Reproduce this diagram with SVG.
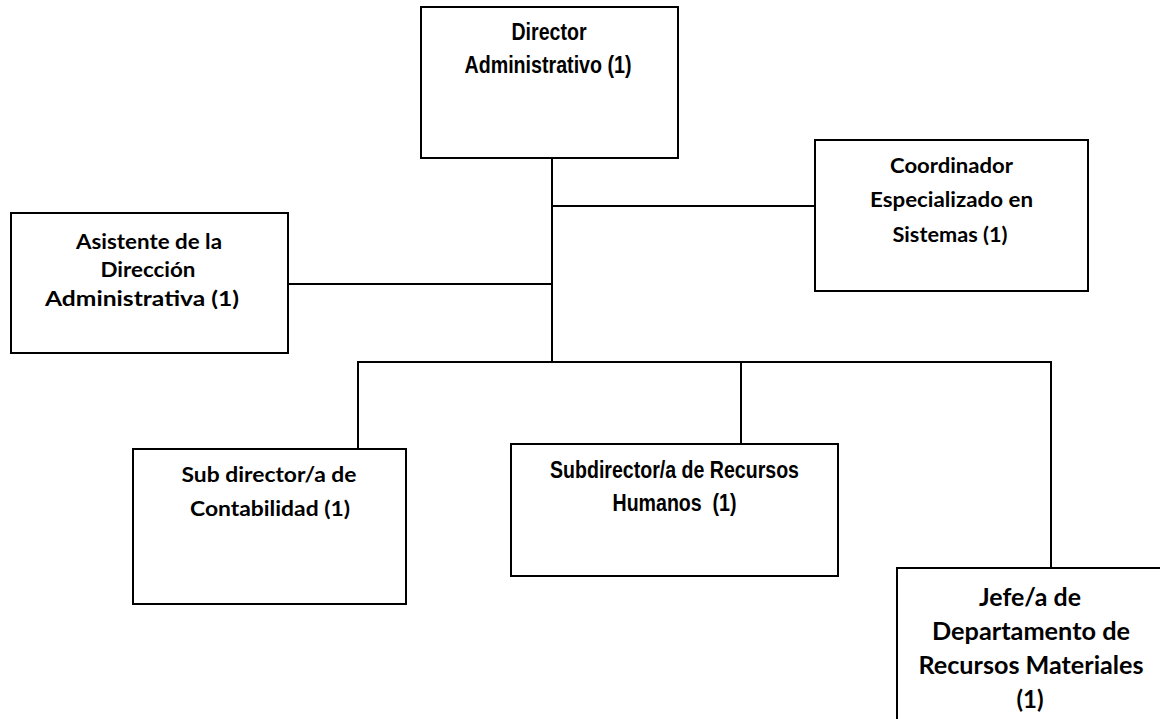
<svg xmlns="http://www.w3.org/2000/svg" width="1160" height="719" viewBox="0 0 1160 719">
  <style>
    .box { fill: #ffffff; stroke: #000000; stroke-width: 2; }
    .link { fill: none; stroke: #000000; stroke-width: 2; }
    .narrow { font-family: "Liberation Sans", Arial, sans-serif; font-weight: bold; font-size: 23px; fill: #000000; text-anchor: middle; }
    .cal { font-family: Lato, "Open Sans", sans-serif; font-weight: bold; font-size: 21.5px; fill: #000000; text-anchor: middle; }
    .cal-lg { font-size: 24px; }
  </style>
  <rect width="1160" height="719" fill="#ffffff"/>

  <!-- reporting lines -->
  <g id="connectors">
    <path class="link" d="M552 158 V362"/>
    <path class="link" d="M552 206 H815"/>
    <path class="link" d="M288 284 H552"/>
    <path class="link" d="M358 449 V362 H1051 V568"/>
    <path class="link" d="M741 362 V444"/>
  </g>

  <g id="director">
    <rect class="box" x="421" y="7" width="257" height="151"/>
    <text class="narrow" x="549" y="40" textLength="75" lengthAdjust="spacingAndGlyphs">Director</text>
    <text class="narrow" x="548" y="73" textLength="167" lengthAdjust="spacingAndGlyphs">Administrativo (1)</text>
  </g>

  <g id="coordinador">
    <rect class="box" x="815" y="140" width="273" height="151"/>
    <text class="cal" x="951.5" y="173" textLength="123" lengthAdjust="spacingAndGlyphs">Coordinador</text>
    <text class="cal" x="951.5" y="207" textLength="163" lengthAdjust="spacingAndGlyphs">Especializado en</text>
    <text class="cal" x="950" y="242" textLength="115" lengthAdjust="spacingAndGlyphs">Sistemas (1)</text>
  </g>

  <g id="asistente">
    <rect class="box" x="11" y="213" width="277" height="140"/>
    <text class="cal" x="149" y="249" textLength="146" lengthAdjust="spacingAndGlyphs">Asistente de la</text>
    <text class="cal" x="148" y="277" textLength="95" lengthAdjust="spacingAndGlyphs">Dirección</text>
    <text class="cal" x="142" y="306" textLength="194" lengthAdjust="spacingAndGlyphs">Administrativa (1)</text>
  </g>

  <g id="contabilidad">
    <rect class="box" x="133" y="449" width="273" height="155"/>
    <text class="cal" x="269" y="482" textLength="175" lengthAdjust="spacingAndGlyphs">Sub director/a de</text>
    <text class="cal" x="270" y="516" textLength="160" lengthAdjust="spacingAndGlyphs">Contabilidad (1)</text>
  </g>

  <g id="recursos-humanos">
    <rect class="box" x="511" y="444" width="327" height="132"/>
    <text class="narrow" x="674.5" y="478" textLength="249" lengthAdjust="spacingAndGlyphs">Subdirector/a de Recursos</text>
    <text class="narrow" x="674.5" y="511" textLength="124" lengthAdjust="spacingAndGlyphs" xml:space="preserve">Humanos  (1)</text>
  </g>

  <g id="recursos-materiales">
    <rect class="box" x="897" y="568" width="266" height="200"/>
    <text class="cal cal-lg" x="1030" y="606" textLength="102" lengthAdjust="spacingAndGlyphs">Jefe/a de</text>
    <text class="cal cal-lg" x="1031" y="640" textLength="198" lengthAdjust="spacingAndGlyphs">Departamento de</text>
    <text class="cal cal-lg" x="1031" y="674" textLength="225" lengthAdjust="spacingAndGlyphs">Recursos Materiales</text>
    <text class="cal cal-lg" x="1030" y="708">(1)</text>
  </g>
</svg>
